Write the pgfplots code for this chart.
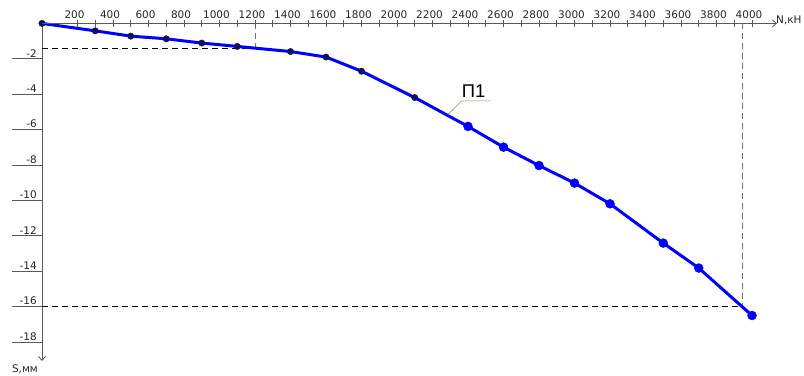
\documentclass[border=0pt]{standalone}
\usepackage{pgfplots}
\pgfplotsset{compat=1.18}
\usepackage{pgfplotstable}
\usepackage{fontspec}
\setmainfont{Liberation Sans}
\newfontfamily\tickfont{DejaVu Sans}
\usetikzlibrary{arrows.meta}
\definecolor{axgray}{gray}{0.35}
\definecolor{lead}{RGB}{170,130,90}
\definecolor{dkpt}{RGB}{15,15,95}

\pgfplotstableread{
N s
0 0
300 -0.42
500 -0.72
700 -0.87
900 -1.11
1100 -1.30
1400 -1.59
1600 -1.90
1800 -2.70
2100 -4.19
2400 -5.82
2600 -6.99
2800 -8.03
3000 -9.02
3200 -10.19
3500 -12.41
3700 -13.82
4000 -16.50
}\data

\pgfplotsset{myax/.style={scale only axis, width=735bp, height=337.6bp,
  xmin=0, xmax=4140.8, ymin=-19.07, ymax=0, clip=false,
  /pgf/number format/assume math mode=true,
  /pgf/number format/1000 sep={}}}

\begin{document}
\begin{tikzpicture}
\begin{axis}[myax, hide x axis, axis y line*=left,
  y axis line style={axgray, line width=0.8bp, {Straight Barb[length=4bp,width=7bp]}-},
  ytick={-18,-16,...,-2}, tick align=outside, major tick length=30bp,
  ytick style={axgray, line width=0.8bp},
  yticklabel style={font=\tickfont\fontsize{10.5}{12}\selectfont, anchor=south east, text=black!85, inner sep=0pt, xshift=25bp, yshift=1.5bp}]
  \addplot[black, line width=0.8bp, dash pattern=on 6bp off 4bp] coordinates {(0,-1.43) (1200,-1.43)};
  \addplot[black!55, line width=0.8bp, dash pattern=on 6bp off 4bp] coordinates {(1200,0) (1200,-1.43)};
  \addplot[black, line width=0.8bp, dash pattern=on 6bp off 4bp] coordinates {(0,-16) (3944,-16)};
  \addplot[black!55, line width=0.8bp, dash pattern=on 6bp off 4bp] coordinates {(3944,0) (3944,-16)};
  \addplot[blue, line width=3bp, line join=round] table[x=N,y=s]{\data};
  \addplot[only marks, mark=*, mark size=3.2bp, dkpt, skip coords between index={10}{18}] table[x=N,y=s]{\data};
  \addplot[only marks, mark=*, mark size=4.5bp, blue, skip coords between index={0}{10}] table[x=N,y=s]{\data};
  \addplot[lead, line width=0.6bp] coordinates {(2286,-5.15) (2364,-4.38) (2530,-4.38)};
  \node[anchor=south west, inner sep=0pt, font=\fontsize{18.5}{20}\selectfont, yshift=3.5bp] at (axis cs:2364,-4.38) {П1};
  \node[anchor=north east, inner sep=0pt, font=\tickfont\fontsize{10.5}{12}\selectfont, text=black!85, xshift=-4bp, yshift=-4bp] at (axis cs:0,-19.07) {S,мм};
\end{axis}
\begin{axis}[myax, hide y axis, axis x line*=top,
  x axis line style={axgray, line width=0.8bp, -{Straight Barb[length=4bp,width=7bp]}},
  xtick={200,400,...,4000}, minor x tick num=1, tick align=center,
  major tick length=6.5bp, minor tick length=6.5bp,
  xtick style={axgray, line width=0.8bp},
  xticklabel style={font=\tickfont\fontsize{10.5}{12}\selectfont, anchor=south, text=black!85, inner sep=0pt, xshift=-3bp, yshift=1bp}]
  \addplot[draw=none] coordinates {(0,0) (4000,-16)};
  \node[anchor=base west, inner sep=0pt, font=\tickfont\fontsize{10.5}{12}\selectfont, text=black!85, xshift=-1bp] at (axis cs:4140.8,0) {N,кН};
\end{axis}
\pgfresetboundingbox
\path (-42bp,-15bp) rectangle (762bp,361bp);
\end{tikzpicture}
\end{document}
